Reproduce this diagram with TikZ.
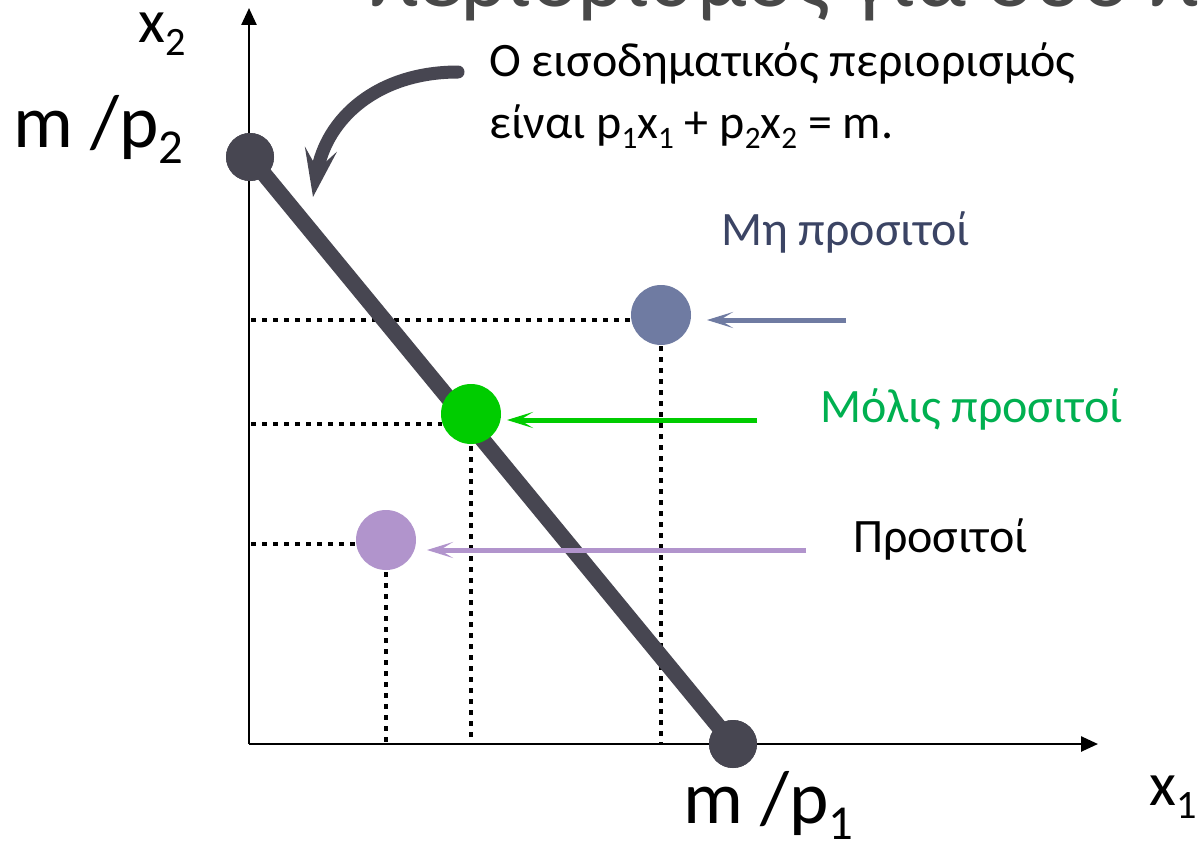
\documentclass[tikz,border=0pt]{standalone}
\usepackage{fontspec}
\usepackage{graphicx}
\setmainfont{Carlito}
\usetikzlibrary{arrows.meta}
\definecolor{bline}{RGB}{71,70,81}
\definecolor{ptblue}{RGB}{111,123,162}
\definecolor{lblblue}{RGB}{59,68,100}
\definecolor{ptgreen}{RGB}{0,204,0}
\definecolor{lblgreen}{RGB}{0,176,80}
\definecolor{ptpurple}{RGB}{177,148,204}
\definecolor{titlegray}{RGB}{72,72,72}
\newcommand\sbs[1]{\raisebox{-0.22em}{\scalebox{0.65}{#1}}}
\begin{document}
\begin{tikzpicture}[x=1pt,y=-1pt,
  axis/.style={line width=2.5pt,-{Triangle[length=17pt,width=15pt]}},
  budget/.style={line width=16pt,draw=bline},
  endpt/.style={circle,fill=bline,minimum size=48pt,inner sep=0pt},
  pt/.style={circle,minimum size=60pt,inner sep=0pt},
  dots/.style={line width=4.5pt,dash pattern=on 4.5pt off 6.5pt},
  carrow/.style={line width=5pt,-{Stealth[length=26pt,width=16pt,inset=13pt]}},
  callout/.style={line width=13pt,draw=bline,line cap=round,-{Stealth[length=48pt,width=32pt,inset=20pt]}},
  lbl/.style={font=\fontsize{48}{54}\selectfont,inner sep=0pt},
  axlbl/.style={font=\fontsize{62}{70}\selectfont,inner sep=0pt},
  mlbl/.style={font=\fontsize{75}{84}\selectfont,inner sep=0pt}]
\clip (0,0) rectangle (1198,843);
\fill[white] (0,0) rectangle (1198,843);
% title (cut off at the top)
\node[font=\fontsize{90}{96}\selectfont,text=titlegray,anchor=base west,inner sep=0pt] (title) at (370,7) {περιορισμός για δύο προϊόντα};
% axes
\coordinate (O) at (249,744);
\coordinate (ytip) at (249,8);
\coordinate (xtip) at (1098,744);
\draw[axis] (O) -- (ytip);
\draw[axis] (O) -- (xtip);
% dotted guides
\coordinate (uh1) at (251,320); \coordinate (uh2) at (631,320);
\coordinate (uv1) at (661,346); \coordinate (uv2) at (661,744);
\coordinate (gh1) at (251,424); \coordinate (gh2) at (442,424);
\coordinate (gv1) at (471,446); \coordinate (gv2) at (471,744);
\coordinate (ph1) at (251,544); \coordinate (ph2) at (356,544);
\coordinate (pv1) at (386,572); \coordinate (pv2) at (386,744);
\draw[dots] (uh1) -- (uh2);
\draw[dots] (uv1) -- (uv2);
\draw[dots] (gh1) -- (gh2);
\draw[dots] (gv1) -- (gv2);
\draw[dots] (ph1) -- (ph2);
\draw[dots] (pv1) -- (pv2);
% budget line
\node[endpt] (A) at (250,157) {};
\node[endpt] (B) at (733,744) {};
\draw[budget] (A.center) -- (B.center);
\node[endpt] at (A) {};
\node[endpt] at (B) {};
% bundles
\node[pt,fill=ptblue] (U) at (661,315) {};
\node[pt,fill=ptgreen] (G) at (471,414) {};
\node[pt,fill=ptpurple] (P) at (386,540) {};
% arrows
\coordinate (ua1) at (846,320); \coordinate (ua2) at (707,320);
\coordinate (ga1) at (757,420); \coordinate (ga2) at (507,420);
\coordinate (pa1) at (806,550); \coordinate (pa2) at (427,550);
\draw[carrow,draw=ptblue] (ua1) -- (ua2);
\draw[carrow,draw=ptgreen] (ga1) -- (ga2);
\draw[carrow,draw=ptpurple] (pa1) -- (pa2);
% labels
\node[lbl,text=lblblue,anchor=base west] (ul) at (721,245) {Μη προσιτοί};
\node[lbl,text=lblgreen,anchor=base west] (gl) at (820,422) {Μόλις προσιτοί};
\node[lbl,anchor=base west] (pl) at (853,552) {Προσιτοί};
\node[lbl,anchor=base west] (t1) at (489,77) {Ο εισοδηματικός περιορισμός};
\node[lbl,anchor=base west] (t2) at (489,138) {είναι p\sbs{1}x\sbs{1} + p\sbs{2}x\sbs{2} = m.};
\node[axlbl,anchor=base west] (x2) at (138,42) {x\sbs{2}};
\node[mlbl,anchor=base west] (mp2) at (13,147) {m /p\sbs{2}};
\node[mlbl,anchor=base west] (mp1) at (683,823) {m /p\sbs{1}};
\node[axlbl,anchor=base west] (x1) at (1149,805) {x\sbs{1}};
% callout arrow
\coordinate (cs) at (458,72);
\coordinate (ce) at (313,197);
\draw[callout] (cs) .. controls (378,72) and (326,118) .. (ce);
\end{tikzpicture}
\end{document}
